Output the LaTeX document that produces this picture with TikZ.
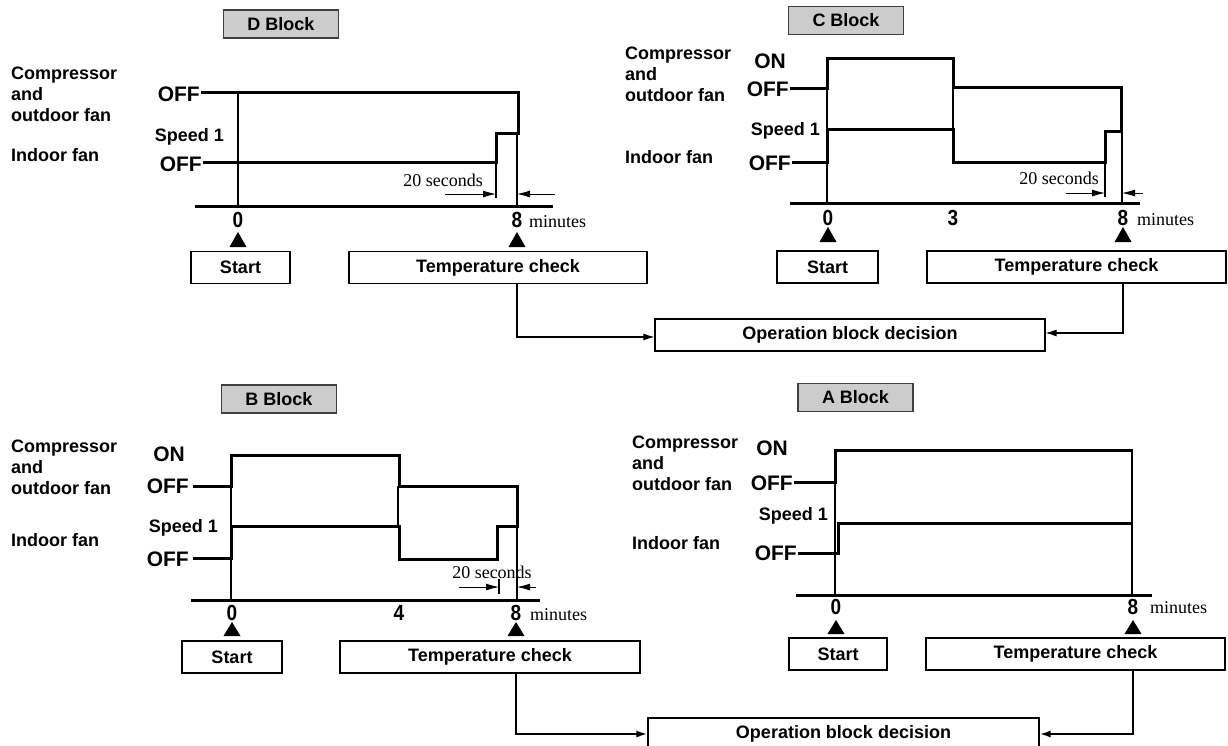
\documentclass[tikz,border=0pt]{standalone}
\usepackage{fontspec}
\setmainfont{Liberation Sans}
\newfontfamily\timesfont{Liberation Serif}
\usetikzlibrary{arrows.meta}
\tikzset{%
  block label/.style={
    draw=black!75,
    fill=black!20,
    line width=1.3pt,
    minimum width=115pt,
    minimum height=28pt,
    inner sep=0pt,
    font=\bfseries\fontsize{18}{18}\selectfont
  },
  event box/.style={
    draw,
    line width=1.1pt,
    minimum height=32pt,
    inner sep=0pt,
    font=\bfseries\fontsize{18}{18}\selectfont
  },
  wave/.style={line width=3pt},
  thin line/.style={line width=1.1pt},
  time axis/.style={line width=3pt},
  row label/.style={anchor=west, align=left, inner sep=0pt,
    font=\bfseries\fontsize{18}{21}\selectfont},
  onoff/.style={anchor=east, inner sep=0pt,
    font=\bfseries\fontsize{21}{21}\selectfont},
  speedlbl/.style={anchor=east, inner sep=0pt,
    font=\bfseries\fontsize{18}{18}\selectfont},
  ticknum/.style={inner sep=0pt, yscale=1.15,
    font=\bfseries\fontsize{19}{19}\selectfont},
  unitlbl/.style={anchor=west, inner sep=0pt,
    font=\timesfont\fontsize{18}{18}\selectfont},
  seclbl/.style={inner sep=0pt, font=\timesfont\fontsize{18}{18}\selectfont},
  span arrow/.style={line width=0.9pt, -{Latex[length=13pt,width=7pt]}},
  feedback/.style={line width=1.1pt, -{Latex[length=11pt,width=7pt]}},
}

\begin{document}
\begin{tikzpicture}[> = stealth, x=1pt, y=-1pt]
\useasboundingbox (0,0) rectangle (1228,745);

% D block
\node[block label] (dblk) at (281,24) {D Block};
\node[row label] (dcomp) at (11,94) {Compressor\\and\\outdoor fan};
\node[row label] (dfan) at (11,155) {Indoor fan};
\node[onoff] (doff1) at (200,94) {OFF};
\node[speedlbl] (dspd) at (224,137) {Speed 1};
\node[onoff] (doff2) at (202,164) {OFF};
    \draw[wave] (201,92) -- (518,92) -- (518,134);
    \draw[wave] (203,162) -- (496,162) -- (496,133) -- (519.5,133);
    \draw[thin line] (238,92) -- (238,206);
    \draw[thin line] (496,162) -- (496,198);
    \draw[thin line] (517,134) -- (517,206);
    \draw[time axis] (195,206) -- (553,206);
    \draw[span arrow] (445,194) -- (496,194);
    \draw[span arrow] (555,194) -- (517,194);
\node[seclbl, anchor=east] (dsec) at (483,180) {20 seconds};
\node[ticknum] (d0) at (238,220) {0};
\node[ticknum] (d8) at (517,220) {8};
\node[unitlbl] (dmin) at (529,222) {minutes};
    \fill (238,232) -- ++(8.5,15) -- ++(-17,0) -- cycle;
    \fill (517,232) -- ++(8.5,15) -- ++(-17,0) -- cycle;
\node[event box, minimum width=99pt] (dstart) at (240.5,267.5) {Start};
\node[event box, minimum width=298pt] (dtemp) at (498,267.5) {Temperature check};

% C block
\node[block label] (cblk) at (846,20.5) {C Block};
\node[row label] (ccomp) at (625,74) {Compressor\\and\\outdoor fan};
\node[row label] (cfan) at (625,157) {Indoor fan};
\node[onoff] (con) at (786,61) {ON};
\node[onoff] (coff1) at (789,89) {OFF};
\node[speedlbl] (cspd) at (820,131) {Speed 1};
\node[onoff] (coff2) at (791,163) {OFF};
    \draw[wave] (790,88) -- (827,88) -- (827,58) -- (953,58) -- (953,87)
      -- (1121,87) -- (1121,131);
    \draw[wave] (792,162) -- (827,162) -- (827,129) -- (953,129) -- (953,162)
      -- (1105,162) -- (1105,131) -- (1122.5,131);
    \draw[thin line] (827,58) -- (827,203);
    \draw[thin line] (953,87) -- (953,129);
    \draw[thin line] (1105,162) -- (1105,197);
    \draw[thin line] (1122,131) -- (1122,203);
    \draw[time axis] (790,203) -- (1140,203);
    \draw[span arrow] (1066,193) -- (1105,193);
    \draw[span arrow] (1143,193) -- (1122,193);
\node[seclbl, anchor=east] (csec) at (1099,178) {20 seconds};
\node[ticknum] (c0) at (828,218) {0};
\node[ticknum] (c3) at (953,218) {3};
\node[ticknum] (c8) at (1123,218) {8};
\node[unitlbl] (cmin) at (1137,220) {minutes};
    \fill (828,227) -- ++(8.5,15) -- ++(-17,0) -- cycle;
    \fill (1123,227) -- ++(8.5,15) -- ++(-17,0) -- cycle;
\node[event box, minimum width=101pt] (cstart) at (827.5,267) {Start};
\node[event box, minimum width=299pt] (ctemp) at (1076.5,267) {Temperature check};

% first decision
\node[event box, minimum width=390pt] (dec1) at (850,335) {Operation block decision};
\draw[feedback] (dtemp.south -| d8) |- ([yshift=-2pt]dec1.west);
\draw[feedback] (ctemp.south -| c8) |- ([yshift=2pt]dec1.east);

% B block
\node[block label] (bblk) at (279,399) {B Block};
\node[row label] (bcomp) at (11,467) {Compressor\\and\\outdoor fan};
\node[row label] (bfan) at (11,540) {Indoor fan};
\node[onoff] (bon) at (185,454) {ON};
\node[onoff] (boff1) at (189,486) {OFF};
\node[speedlbl] (bspd) at (218,528) {Speed 1};
\node[onoff] (boff2) at (189,559) {OFF};
    \draw[wave] (193,486) -- (231,486) -- (231,455) -- (399,455) -- (399,486)
      -- (517,486) -- (517,526);
    \draw[wave] (193,558) -- (231,558) -- (231,526) -- (399,526) -- (399,559)
      -- (497,559) -- (497,526) -- (518.5,526);
    \draw[thin line] (231,455) -- (231,600);
    \draw[thin line] (398,486) -- (398,526);
    \draw[thin line] (499,579) -- (499,594);
    \draw[thin line] (517,526) -- (517,600);
    \draw[time axis] (191,600) -- (540,600);
    \draw[span arrow] (459,587) -- (499,587);
    \draw[span arrow] (536,587) -- (517,587);
\node[seclbl] (bsec) at (492,572) {20 seconds};
\node[ticknum] (b0) at (232,613) {0};
\node[ticknum] (b4) at (399,613) {4};
\node[ticknum] (b8) at (516,613) {8};
\node[unitlbl] (bmin) at (530,615) {minutes};
    \fill (232,622) -- ++(8.5,14) -- ++(-17,0) -- cycle;
    \fill (516,622) -- ++(8.5,14) -- ++(-17,0) -- cycle;
\node[event box, minimum width=100pt] (bstart) at (232,657) {Start};
\node[event box, minimum width=300pt] (btemp) at (490,657) {Temperature check};

% A block
\node[block label] (ablk) at (855.5,397.5) {A Block};
\node[row label] (acomp) at (632,463) {Compressor\\and\\outdoor fan};
\node[row label] (afan) at (632,543) {Indoor fan};
\node[onoff] (aon) at (788,448) {ON};
\node[onoff] (aoff1) at (793,483) {OFF};
\node[speedlbl] (aspd) at (828,516) {Speed 1};
\node[onoff] (aoff2) at (797,553) {OFF};
    \draw[wave] (794,482) -- (835,482) -- (835,450) -- (1133,450);
    \draw[wave] (798,553) -- (838,553) -- (838,523) -- (1133,523);
    \draw[thin line] (835,450) -- (835,595);
    \draw[thin line] (1132,450) -- (1132,595);
    \draw[time axis] (796,595) -- (1152,595);
\node[ticknum] (a0) at (836,607) {0};
\node[ticknum] (a8) at (1133,607) {8};
\node[unitlbl] (amin) at (1150,608) {minutes};
    \fill (836,620) -- ++(8.5,14) -- ++(-17,0) -- cycle;
    \fill (1133,620) -- ++(8.5,14) -- ++(-17,0) -- cycle;
\node[event box, minimum width=98pt] (astart) at (838,654) {Start};
\node[event box, minimum width=299pt] (atemp) at (1075.5,654) {Temperature check};

% second decision
\node[event box, minimum width=391pt] (dec2) at (843.5,734) {Operation block decision};
\draw[feedback, line width=2pt] (btemp.south -| b8) |- (dec2.west);
\draw[feedback, line width=2pt] (atemp.south -| a8) |- (dec2.east);
\end{tikzpicture}
\end{document}
